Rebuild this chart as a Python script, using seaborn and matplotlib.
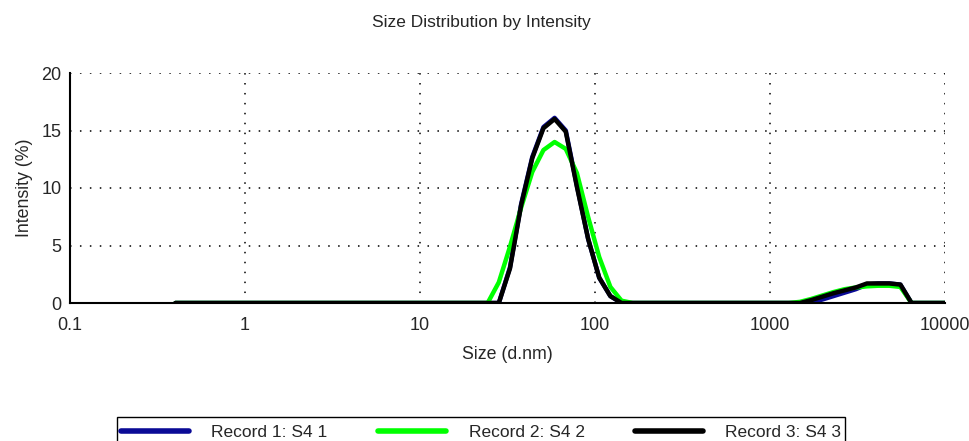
import matplotlib
matplotlib.use("Agg")
import matplotlib.pyplot as plt
import matplotlib.ticker as mticker
from matplotlib.patches import Rectangle
import numpy as np
import pandas as pd
import seaborn as sns

sizes = [0.4, 0.4632, 0.5365, 0.6213, 0.7195, 0.8332, 0.9649, 1.117, 1.294, 1.499,
         1.736, 2.01, 2.328, 2.696, 3.122, 3.615, 4.187, 4.849, 5.615, 6.503,
         7.531, 8.721, 10.1, 11.7, 13.54, 15.69, 18.17, 21.04, 24.36, 28.21,
         32.67, 37.84, 43.82, 50.75, 58.77, 68.06, 78.82, 91.28, 105.7, 122.4,
         141.8, 164.2, 190.1, 220.2, 255.0, 295.3, 342.0, 396.1, 458.7, 531.2,
         615.1, 712.4, 825.0, 955.4, 1106, 1281, 1484, 1718, 1990, 2305,
         2669, 3091, 3580, 4145, 4801, 5560, 6439, 7456, 8635, 10000]

zeros28 = [0.0] * 28   # 0.4 .. 21.04
mid_zero = [0.0] * 13  # 190.1 .. 1106

# first peak: 24.36 .. 164.2 ; second peak: 1281 .. 10000
record1 = zeros28 + [0.0, 0.0, 3.1, 8.6, 12.7, 15.3, 16.1, 15.0, 10.2, 5.6, 2.2, 0.6, 0.0, 0.0] \
    + mid_zero + [0.0, 0.0, 0.05, 0.3, 0.6, 0.9, 1.2, 1.6, 1.7, 1.7, 1.6, 0.0, 0.0, 0.0, 0.0]
record2 = zeros28 + [0.0, 1.8, 4.9, 8.3, 11.4, 13.3, 14.0, 13.4, 11.3, 7.5, 4.0, 1.4, 0.2, 0.0] \
    + mid_zero + [0.0, 0.1, 0.35, 0.65, 0.95, 1.2, 1.35, 1.45, 1.5, 1.5, 1.4, 0.0, 0.0, 0.0, 0.0]
record3 = zeros28 + [0.0, 0.0, 3.0, 8.5, 12.6, 15.2, 16.0, 14.9, 10.1, 5.6, 2.2, 0.6, 0.0, 0.0] \
    + mid_zero + [0.0, 0.0, 0.25, 0.55, 0.85, 1.1, 1.35, 1.7, 1.7, 1.7, 1.6, 0.0, 0.0, 0.0, 0.0]

labels = ["Record 1: S4 1", "Record 2: S4 2", "Record 3: S4 3"]
colors = ["#0a0a96", "#00ff00", "#000000"]

df = pd.DataFrame({
    "size": sizes * 3,
    "intensity": record1 + record2 + record3,
    "record": [labels[0]] * len(sizes) + [labels[1]] * len(sizes) + [labels[2]] * len(sizes),
})

sns.set_style("white")
plt.rcParams['font.family'] = ['Liberation Sans', 'DejaVu Sans']

fig = plt.figure(figsize=(9.69, 4.41), dpi=100)
ax = fig.add_axes([70 / 969, 1 - 303 / 441, (945 - 70) / 969, (303 - 73) / 441])

sns.lineplot(data=df, x="size", y="intensity", hue="record", palette=colors,
             linewidth=3.2, ax=ax, legend=False, sort=False, estimator=None)

ax.set_xscale("log")
ax.set_xlim(0.1, 10000)
ax.set_ylim(0, 20)

ax.xaxis.set_major_locator(mticker.FixedLocator([0.1, 1, 10, 100, 1000, 10000]))
ax.xaxis.set_major_formatter(mticker.FixedFormatter(["0.1", "1", "10", "100", "1000", "10000"]))
ax.xaxis.set_minor_locator(mticker.LogLocator(base=10, subs=np.arange(2, 10), numticks=20))
ax.xaxis.set_minor_formatter(mticker.NullFormatter())
ax.yaxis.set_major_locator(mticker.MultipleLocator(5))
ax.yaxis.set_minor_locator(mticker.MultipleLocator(2.5))

ax.tick_params(axis="y", which="major", direction="inout", length=8, width=1.2, labelsize=13, pad=2)
ax.tick_params(axis="y", which="minor", direction="inout", length=6, width=1.2)
ax.tick_params(axis="x", which="major", direction="inout", length=6, width=1.2, labelsize=13, pad=7)
ax.tick_params(axis="x", which="minor", direction="inout", length=3, width=1.2)

ax.grid(True, which="major", color="black", linestyle=(0, (1, 5.5)), linewidth=1.1)
ax.set_axisbelow(True)

for s in ["top", "right"]:
    ax.spines[s].set_visible(False)
for s in ["left", "bottom"]:
    ax.spines[s].set_color("black")
    ax.spines[s].set_linewidth(1.5)

ax.set_xlabel("Size (d.nm)", fontsize=12.8, labelpad=9)
ax.set_ylabel("Intensity (%)", fontsize=12.8, labelpad=6)
fig.text(481 / 969, 1 - 22 / 441, "Size Distribution by Intensity", ha="center", va="center", fontsize=12.5)

handles = [plt.Line2D([], [], color=c, linewidth=4) for c in colors]
leg = fig.legend(handles, labels, loc="upper center", bbox_to_anchor=(481 / 969, 1 - 421 / 441),
                 ncol=3, frameon=False, fontsize=12.5,
                 handlelength=3.92, columnspacing=2.88, handletextpad=1.31,
                 borderpad=0.2, borderaxespad=0)
# legend box (cut off by the bottom edge of the image, as in the reference)
fig.patches.append(Rectangle((117.3 / 969, (441 - 446) / 441), (845 - 117.3) / 969, (446 - 416.7) / 441,
                             transform=fig.transFigure, fill=False, edgecolor="black",
                             linewidth=1.0, figure=fig))

fig.savefig("out.png", dpi=100)
